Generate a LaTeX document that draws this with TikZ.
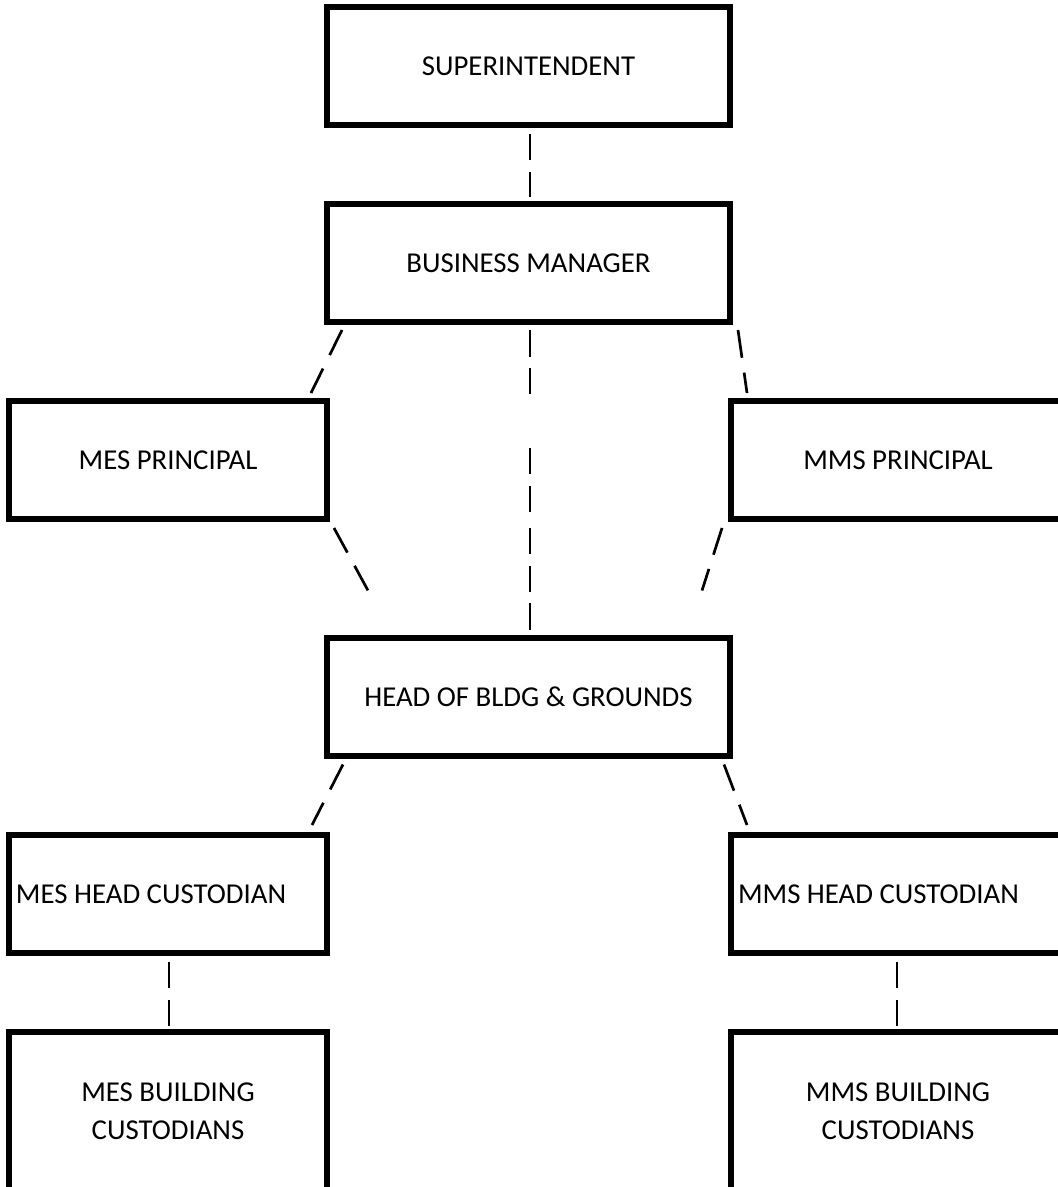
\documentclass[tikz,border=0pt]{standalone}
\usepackage{fontspec}
\setmainfont{Carlito}

\tikzset{
  box/.style={draw, line width=3pt, minimum height=59pt, inner sep=0pt,
    font=\fontsize{14.4}{19}\selectfont, align=center},
  wide/.style={box, minimum width=201.5pt},
  leftbox/.style={box, minimum width=159pt},
  rightbox/.style={box, minimum width=167pt},
  link/.style={-, line width=1.35pt, color=black, dash pattern=on 13pt off 6pt},
  slant/.style={link, dash pattern=on 14pt off 7.5pt}
}

\begin{document}
\begin{tikzpicture}[x=0.5pt, y=-0.5pt]
    \clip (0, 0) rectangle (1058, 1187);

    \node[wide] (sup) at (528.5, 66) {SUPERINTENDENT};
    \node[wide] (bm) at (528.5, 263) {BUSINESS MANAGER};
    \node[leftbox] (mesp) at (168, 460) {MES PRINCIPAL};
    \node[rightbox] (mmsp) at (898, 460) {MMS PRINCIPAL};
    \node[wide] (head) at (528.5, 696.5) {HEAD OF BLDG \& GROUNDS};

    \node[leftbox, text width=152pt, align=flush left] (meshc) at (168, 894)
      {MES HEAD CUSTODIAN};
    \node[rightbox, text width=160pt, align=flush left] (mmshc) at (898, 894)
      {MMS HEAD CUSTODIAN};
    \node[leftbox, minimum height=79pt] (mesb) at (168, 1111)
      {MES BUILDING\\CUSTODIANS};
    \node[rightbox, minimum height=79pt] (mmsb) at (898, 1111)
      {MMS BUILDING\\CUSTODIANS};

    % dashed links
    \draw[link] ([shift={(1.5,6)}]sup.south) -- ([shift={(1.5,-4)}]bm.north);
    \draw[link, dash pattern=on 13.5pt off 5.5pt on 13pt off 27pt on 13pt off 6pt
      on 13pt off 8pt on 13pt off 6pt on 13pt off 5.5pt on 13.5pt off 10pt]
      ([shift={(1.5,5)}]bm.south) -- ([shift={(1.5,-5)}]head.north);
    \draw[slant] ([shift={(18,5)}]bm.south west) -- ([shift={(-19,-5)}]mesp.north east);
    \draw[slant] ([shift={(5,5)}]bm.south east) -- ([shift={(19,-5)}]mmsp.north west);

    \draw[slant] ([shift={(4,6)}]mesp.south east) -- ([shift={(44,-44)}]head.north west);
    \draw[slant] ([shift={(-6,6)}]mmsp.south west) -- ([shift={(-31,-44)}]head.north east);

    \draw[slant] ([shift={(19,6)}]head.south west) -- ([shift={(-18,-7)}]meshc.north east);
    \draw[slant] ([shift={(-9,6)}]head.south east) -- ([shift={(19,-7)}]mmshc.north west);

    \draw[link] ([shift={(1,6)}]meshc.south) -- ([shift={(1,-3)}]mesb.north);
    \draw[link] ([shift={(-1,6)}]mmshc.south) -- ([shift={(-1,-3)}]mmsb.north);
  \end{tikzpicture}
\end{document}
